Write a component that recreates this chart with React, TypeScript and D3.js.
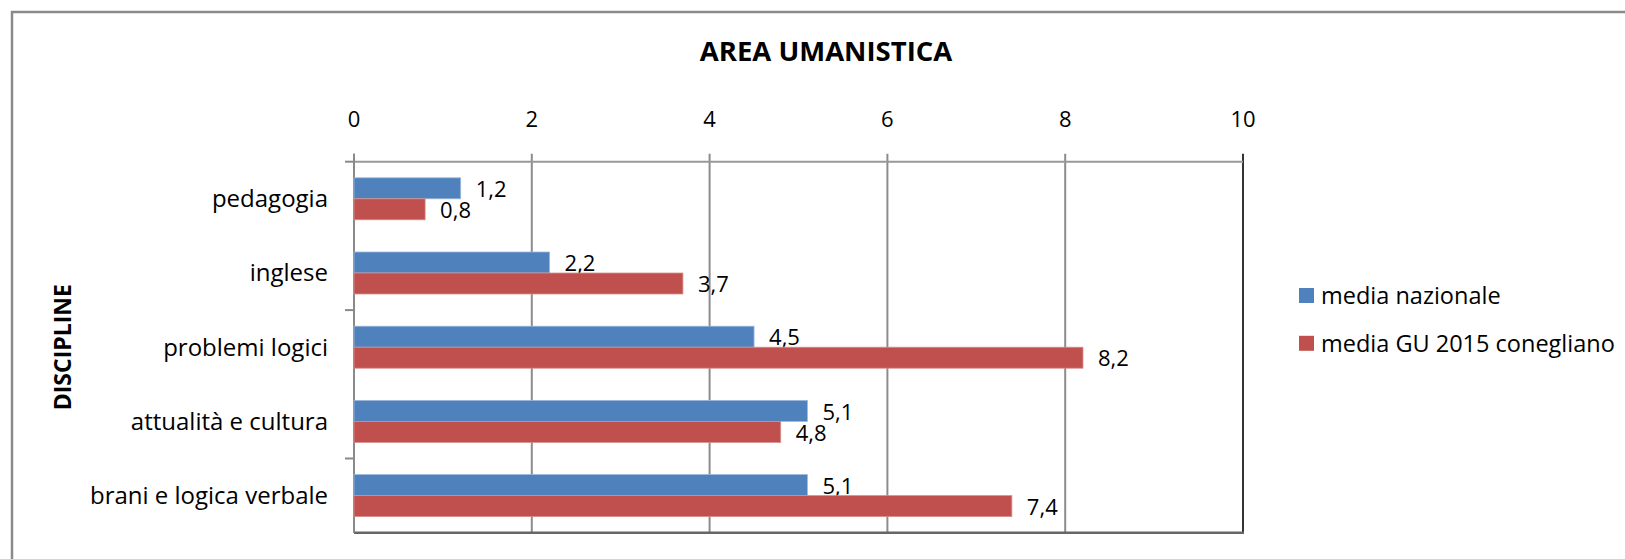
import React from 'react';
import * as d3 from 'd3';

const categories = ['pedagogia', 'inglese', 'problemi logici', 'attualità e cultura', 'brani e logica verbale'];
const seriesNames = ['media nazionale', 'media GU 2015 conegliano'];
const mediaNazionale = [1.2, 2.2, 4.5, 5.1, 5.1];
const mediaConegliano = [0.8, 3.7, 8.2, 4.8, 7.4];
const xTicks = [0, 2, 4, 6, 8, 10];
const colors = ['#4F81BD', '#C0504D'];

const W = 1625;
const H = 559;
const FONT = '"Open Sans", sans-serif';

const fmt = (v: number) => String(v).replace('.', ',');

const App = () => {
  const margin = { top: 161.7, left: 354, right: 1243, bottom: 532.7 };

  // value axis on top
  const x = d3.scaleLinear().domain([0, 10]).range([margin.left, margin.right]);

  // categories top to bottom
  const y = d3
    .scaleBand<string>()
    .domain(categories)
    .range([margin.top, margin.bottom])
    .paddingInner(0.434)
    .paddingOuter(0.217);

  const inner = d3.scaleBand<number>().domain([0, 1]).range([0, y.bandwidth()]);

  const series = [mediaNazionale, mediaConegliano];
  const step = y.step();
  const boundaries = d3.range(0, categories.length + 1, 2).map(i => margin.top + i * step);

  return (
    <svg width={W} height={H} style={{ position: 'absolute', left: 0, top: 0, background: '#fff' }}>
      {/* outer chart border, cropped on right and bottom */}
      <rect x={12} y={12} width={W + 20} height={H + 20} fill="#fff" stroke="#8a8a8a" strokeWidth={2.5} />

      <text x={826} y={51} textAnchor="middle" dy="0.35em" fontFamily={FONT} fontWeight="bold" fontSize={27.5}>
        AREA UMANISTICA
      </text>

      {/* gridlines + top ticks */}
      {xTicks.map(t => (
        <g key={t}>
          <line x1={x(t)} x2={x(t)} y1={margin.top - 8} y2={margin.bottom} stroke={t === 10 ? '#333' : '#8c8c8c'} strokeWidth={2} />
          <text x={x(t)} y={119.5} textAnchor="middle" dy="0.35em" fontFamily={FONT} fontSize={22}>
            {t}
          </text>
        </g>
      ))}
      <line x1={margin.left} x2={margin.right} y1={margin.top} y2={margin.top} stroke="#999" strokeWidth={2} />
      <line x1={margin.left} x2={margin.right + 1} y1={margin.bottom} y2={margin.bottom} stroke="#666" strokeWidth={2.5} />

      {/* category axis */}
      <line x1={margin.left} x2={margin.left} y1={margin.top - 8} y2={margin.bottom} stroke="#8a8a8a" strokeWidth={2} />
      {boundaries.map((b, i) => (
        <line key={i} x1={margin.left - 9} x2={margin.left} y1={b} y2={b} stroke="#8a8a8a" strokeWidth={2} />
      ))}
      {categories.map(c => (
        <text key={c} x={328} y={(y(c) ?? 0) + y.bandwidth() / 2} textAnchor="end" dy="0.35em" fontFamily={FONT} fontSize={24}>
          {c}
        </text>
      ))}
      <text
        transform={`translate(63,${(margin.top + margin.bottom) / 2}) rotate(-90)`}
        textAnchor="middle"
        dy="0.35em"
        fontFamily={FONT}
        fontWeight="bold"
        fontSize={23}
      >
        DISCIPLINE
      </text>

      {/* bars */}
      {series.map((vals, s) =>
        vals.map((v, i) => {
          const by = (y(categories[i]) ?? 0) + (inner(s) ?? 0);
          return (
            <g key={`${s}-${i}`}>
              <rect
                x={x(0)}
                y={by}
                width={x(v) - x(0)}
                height={inner.bandwidth()}
                fill={colors[s]}
                stroke={s === 0 ? '#9db7d9' : '#d88e8c'}
                strokeWidth={0.8}
              />
              <text x={x(v) + 15} y={by + inner.bandwidth() / 2 + 1} dy="0.35em" fontFamily={FONT} fontSize={22}>
                {fmt(v)}
              </text>
            </g>
          );
        })
      )}

      {/* legend */}
      {seriesNames.map((n, s) => (
        <g key={n} transform={`translate(1299,${295.5 + s * 47.8})`}>
          <rect x={0} y={-7.5} width={15} height={15} fill={colors[s]} />
          <text x={22} y={0} dy="0.35em" fontFamily={FONT} fontSize={23.5}>
            {n}
          </text>
        </g>
      ))}
    </svg>
  );
};

export default App;
